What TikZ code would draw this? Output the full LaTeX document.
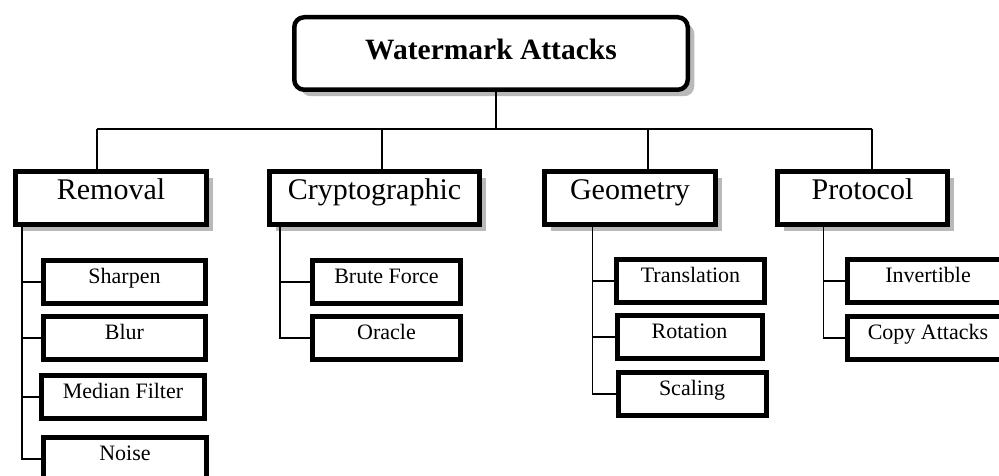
\documentclass[tikz,border=0pt]{standalone}
\usepackage{fontspec}
\setmainfont{Liberation Serif}
\usepackage{tikz}
\usetikzlibrary{positioning,shadows}

\begin{document}
\begin{tikzpicture}[x=1pt, y=-1pt,
    shade/.style={drop shadow={shadow xshift=6.5pt, shadow yshift=-6.5pt, fill=gray!55, opacity=1}},
    rootbox/.style={draw, line width=4.5pt, rounded corners=10pt, fill=white, shade, inner sep=0pt,
        minimum width=393.5pt, text height=42.75pt, text depth=29.75pt, font=\fontsize{29.5}{30}\selectfont\bfseries},
    kindbox/.style={draw, line width=5pt, fill=white, shade, inner sep=0pt,
        text height=28pt, text depth=24.5pt, font=\fontsize{30}{31}\selectfont},
    leafbox/.style={draw, line width=5pt, fill=white, inner sep=0pt,
        text height=22.5pt, text depth=20.5pt, font=\fontsize{22}{23}\selectfont},
    wire/.style={line width=1.2pt}]
            \useasboundingbox (0,0) rectangle (999,476);
            \node[rootbox](top) at (491,53.5){Watermark Attacks};
            \node[kindbox, minimum width=191pt](rem) at (111,198.25){Removal};
            \node[kindbox, minimum width=210pt](cry) at (374.5,198.25){Cryptographic};
            \node[kindbox, minimum width=171pt](geo) at (630,198.25){Geometry};
            \node[kindbox, minimum width=170pt](pro) at (862.5,198.25){Protocol};
            \node[leafbox, minimum width=162pt](sharpen) at (124.5,282){Sharpen};
            \node[leafbox, minimum width=162pt](blur) at (124.5,338){Blur};
            \node[leafbox, minimum width=163pt](median) at (123,397){Median Filter};
            \node[leafbox, minimum width=163pt](noise) at (125,459){Noise};
            \node[leafbox, minimum width=148pt](brute) at (386.5,282){Brute Force};
            \node[leafbox, minimum width=148pt](oracle) at (386.5,338){Oracle};
            \node[leafbox, minimum width=148pt](trans) at (690.5,281){Translation};
            \node[leafbox, minimum width=145pt](rot) at (689.5,337){Rotation};
            \node[leafbox, minimum width=148pt](scal) at (692,394){Scaling};
            \node[leafbox, minimum width=161pt](inv) at (928,281){Invertible};
            \node[leafbox, minimum width=161pt](copy) at (928,338){Copy Attacks};
            \coordinate (hub) at (496,129);
            \coordinate (b1) at (97,129);
            \coordinate (b2) at (382,129);
            \coordinate (b3) at (648,129);
            \coordinate (b4) at (872,129);
            \coordinate (rs) at (22,0);
            \coordinate (cs) at (280,0);
            \coordinate (gs) at (592.5,0);
            \coordinate (ps) at (823.5,0);
            \draw[wire] (hub) -- (hub |- top.south);
            \draw[wire] (b1) -- (b4);
            \draw[wire] (b1) -- (b1 |- rem.north);
            \draw[wire] (b2) -- (b2 |- cry.north);
            \draw[wire] (b3) -- (b3 |- geo.north);
            \draw[wire] (b4) -- (b4 |- pro.north);
            \foreach \c in {sharpen,blur,median,noise}
                \draw[wire] (rs |- rem.south) |- (\c.west);
            \foreach \c in {brute,oracle}
                \draw[wire] (cs |- cry.south) |- (\c.west);
            \foreach \c in {trans,rot,scal}
                \draw[wire] (gs |- geo.south) |- (\c.west);
            \foreach \c in {inv,copy}
                \draw[wire] (ps |- pro.south) |- (\c.west);
            \end{tikzpicture}
\end{document}
